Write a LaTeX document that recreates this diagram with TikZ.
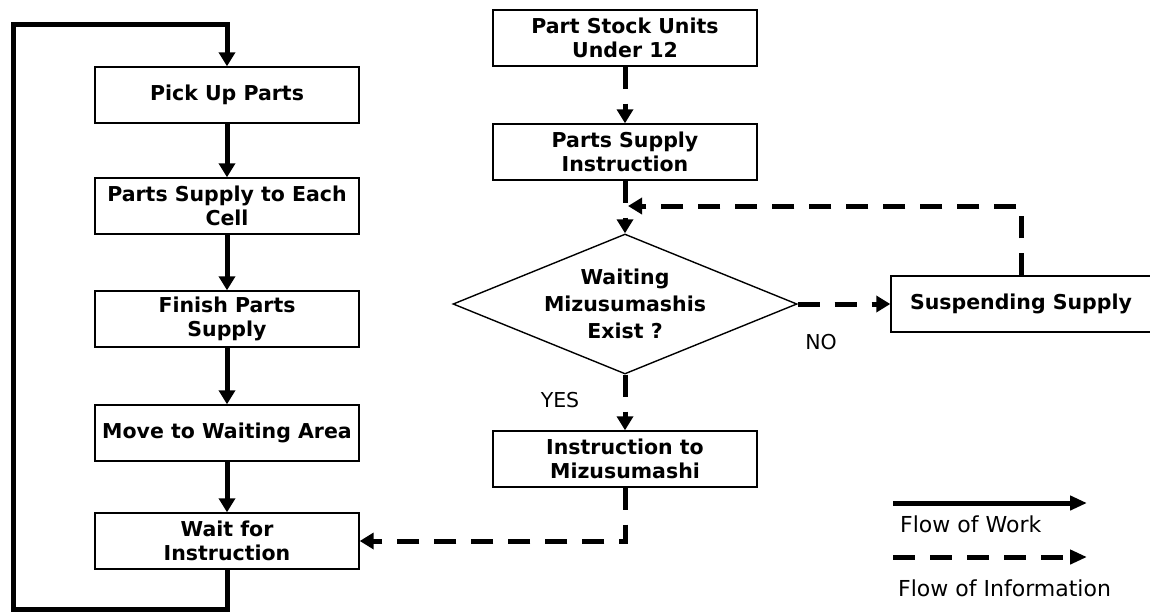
\documentclass[tikz,border=0pt]{standalone}
\usepackage{fontspec}
\setmainfont{DejaVu Sans}
\usetikzlibrary{arrows.meta,shapes.geometric}
\begin{document}
\begin{tikzpicture}[x=1pt,y=-1pt,
  box/.style={draw, line width=1.4pt, minimum width=264pt, minimum height=56pt, inner sep=0pt, align=center, font=\fontsize{20.5}{24.5}\selectfont\bfseries},
  work/.style={line width=5pt, -{Triangle[width=16pt,length=14pt]}},
  info/.style={line width=5pt, dash pattern=on 22pt off 15pt, -{Triangle[width=16pt,length=14pt]}},
  lbl/.style={inner sep=0pt, font=\fontsize{20.5}{24}\selectfont},
  leg/.style={inner sep=0pt, anchor=west, font=\fontsize{22}{26}\selectfont},
  legtip/.style={-{Triangle[width=14pt,length=17pt]}}
]
\useasboundingbox (0,0) rectangle (1150,614);

% left column (flow of work)
\node[box] (pick) at (227,95) {Pick Up Parts};
\node[box] (cell) at (227,206) {Parts Supply to Each\\Cell};
\node[box] (fin) at (227,319) {Finish Parts\\Supply};
\node[box] (move) at (227,433) {Move to Waiting Area};
\node[box] (wait) at (227,541) {Wait for\\Instruction};

% right column (flow of information)
\node[box] (stock) at (625,38) {Part Stock Units\\Under 12};
\node[box] (psi) at (625,152) {Parts Supply\\Instruction};
\node[draw, line width=1.4pt, shape=diamond, aspect=2.457, minimum width=344pt, minimum height=140pt, inner sep=0pt, align=center, font=\fontsize{20.5}{27}\selectfont\bfseries] (dec) at (625,304) {Waiting\\Mizusumashis\\Exist ?};
\node[box] (ins) at (625,459) {Instruction to\\Mizusumashi};
\node[box, minimum width=260pt] (sus) at (1021,304) {Suspending Supply};

% work arrows
\draw[work] (pick) -- (cell);
\draw[work] (cell) -- (fin);
\draw[work] (fin) -- (move);
\draw[work] (move) -- (wait);

\coordinate (lb) at (227,609);
\coordinate (ll) at (13,609);
\coordinate (lt) at (13,24);
\coordinate (tp) at (227,24);
\draw[work] (wait.south) -- (lb) -- (ll) -- (lt) -- (tp) -- (pick.north);

% information arrows
\draw[info] (stock) -- (psi);
\draw[info] (psi) -- (dec);
\draw[info] (dec) -- (ins);
\draw[info] (ins.south) |- (wait.east);
\draw[info] (dec.east) -- (sus.west);
\coordinate (fb) at (628,206);
\draw[info] (sus.north) |- (fb);

% labels
\node[lbl] (yes) at (560,400) {YES};
\node[lbl] (no) at (821,342) {NO};

% legend
\coordinate (w1) at (893,503);
\coordinate (w2) at (1087,503);
\draw[work, legtip] (w1) -- (w2);
\node[leg] (lw) at (900,524) {Flow of Work};
\coordinate (i1) at (893,557);
\coordinate (i2) at (1087,557);
\draw[info, legtip] (i1) -- (i2);
\node[leg] (li) at (898,588) {Flow of Information};
\end{tikzpicture}
\end{document}
